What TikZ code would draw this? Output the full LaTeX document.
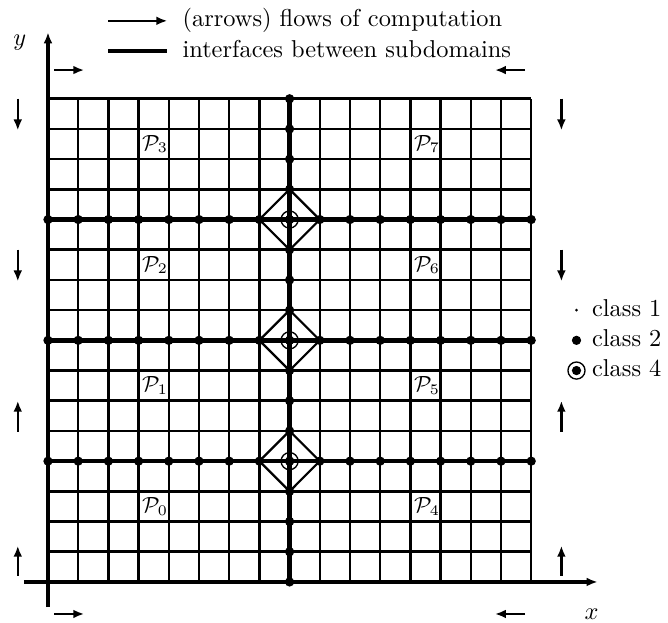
\documentclass[tikz,border=0pt]{standalone}
\usetikzlibrary{arrows.meta}
\begin{document}
\begin{tikzpicture}[x=12.38pt,y=12.38pt,
  gridline/.style={line width=1.05pt},
  iface/.style={line width=1.8pt},
  axis/.style={line width=1.5pt,-{Latex[length=4.5pt,width=3.6pt]}},
  flow/.style={line width=1pt,-{Latex[length=4.5pt,width=3.6pt]}},
  dia/.style={line width=0.9pt,line join=miter},
  dottwo/.style={fill=black},
  plabel/.style={font=\small,inner sep=0pt},
  legtext/.style={anchor=base west,inner sep=0pt}]
\useasboundingbox (-1.589,-1.358) rectangle (20.53,19.27);
% grid
\foreach \i in {0,...,16} {
  \draw[gridline] (\i,0) -- (\i,16);
  \draw[gridline] (0,\i) -- (16,\i);
}
% interfaces
\draw[iface] (8,0) -- (8,16);
\foreach \yy in {4,8,12} \draw[iface] (0,\yy) -- (16,\yy);
% diamonds and class 4 circles
\foreach \yy in {4,8,12} {
  \draw[dia] (7,\yy) -- (8,\yy+1) -- (9,\yy) -- (8,\yy-1) -- cycle;
  \draw[line width=0.55pt] (8,\yy) circle (3.5pt);
}
% class 2 dots
\foreach \i in {0,...,16} \fill[dottwo] (8,\i) circle (1.9pt);
\foreach \yy in {4,8,12} \foreach \i in {0,...,16} \fill[dottwo] (\i,\yy) circle (1.9pt);
% axes
\coordinate (xs) at (-0.8,0); \coordinate (xe) at (18.2,0);
\coordinate (ys) at (0,-0.83); \coordinate (ye) at (0,18.2);
\draw[axis] (xs) -- (xe);
\draw[axis] (ys) -- (ye);
\node (xl) at (18.0,-1.06) {$x$};
\node (yl) at (-0.93,17.85) {$y$};
% flow arrows top/bottom
\foreach \yy in {16.95,-1.06} {
  \draw[flow] (0.2,\yy) -- (1.2,\yy);
  \draw[flow] (15.8,\yy) -- (14.8,\yy);
}
% flow arrows left/right
\foreach \xx in {-1.0,17.0} {
  \draw[flow] (\xx,16) -- (\xx,14.95);
  \draw[flow] (\xx,11) -- (\xx,9.95);
  \draw[flow] (\xx,4.97) -- (\xx,6.0);
  \draw[flow] (\xx,0.2) -- (\xx,1.2);
}
% subdomain labels
\node[plabel] (p3) at (3.55,14.5) {$\mathcal{P}_3$};
\node[plabel] (p2) at (3.55,10.5) {$\mathcal{P}_2$};
\node[plabel] (p1) at (3.55,6.5) {$\mathcal{P}_1$};
\node[plabel] (p0) at (3.55,2.5) {$\mathcal{P}_0$};
\node[plabel] (p7) at (12.55,14.5) {$\mathcal{P}_7$};
\node[plabel] (p6) at (12.55,10.5) {$\mathcal{P}_6$};
\node[plabel] (p5) at (12.55,6.5) {$\mathcal{P}_5$};
\node[plabel] (p4) at (12.55,2.5) {$\mathcal{P}_4$};
% top legend
\coordinate (la1) at (2,18.58); \coordinate (la2) at (3.95,18.58);
\coordinate (lb1) at (2,17.58); \coordinate (lb2) at (3.95,17.58);
\draw[line width=0.8pt,-{Latex[length=4.5pt,width=3.6pt]}] (la1) -- (la2);
\draw[iface] (lb1) -- (lb2);
\node[legtext] (t1) at (4.44,18.38) {(arrows) flows of computation};
\node[legtext] (t2) at (4.44,17.38) {interfaces between subdomains};
% class legend
\fill (17.5,9) circle (0.6pt);
\fill (17.5,8) circle (1.9pt);
\fill (17.5,7) circle (1.9pt);
\draw[line width=0.55pt] (17.5,7) circle (3.5pt);
\node[legtext] (c1) at (18.0,8.8) {class 1};
\node[legtext] (c2) at (18.0,7.8) {class 2};
\node[legtext] (c4) at (18.0,6.8) {class 4};
\end{tikzpicture}
\end{document}
